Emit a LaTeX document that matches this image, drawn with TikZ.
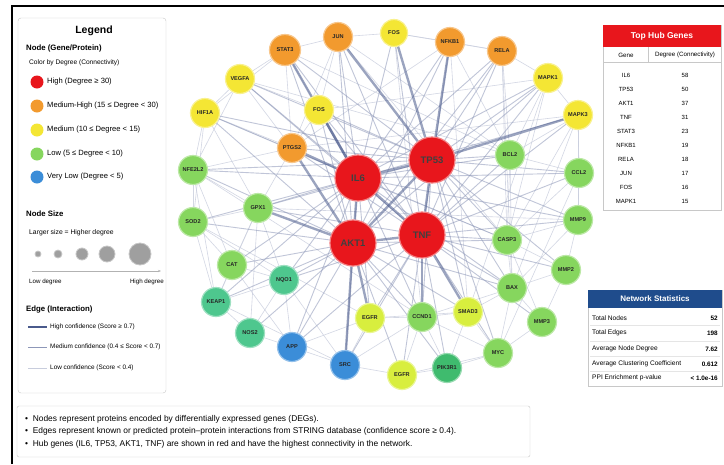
\documentclass[tikz,border=0pt]{standalone}
\usepackage{fontspec}
\setmainfont{Liberation Sans}
\usetikzlibrary{arrows.meta}
\pgfdeclarelayer{background}
\pgfsetlayers{background,main}
\definecolor{cred}{HTML}{E8161C}
\definecolor{corange}{HTML}{F29A2E}
\definecolor{cyellow}{HTML}{F4E634}
\definecolor{clime}{HTML}{D8EE3E}
\definecolor{cgreen}{HTML}{86D65E}
\definecolor{cteal}{HTML}{4EC78E}
\definecolor{cteal2}{HTML}{3FBB6E}
\definecolor{cblue}{HTML}{3B8DD8}
\definecolor{ehigh}{HTML}{4A5A8C}
\definecolor{emed}{HTML}{8D97B8}
\definecolor{elow}{HTML}{C8CDDD}
\definecolor{statblue}{HTML}{1F4C8C}
\definecolor{boxgray}{HTML}{C8C8C8}
\begin{document}
\begin{tikzpicture}[x=1pt,y=-1pt,
  gn/.style={circle, minimum size=29pt, inner sep=0pt, line width=1.2pt,
    font=\fontsize{5.6}{6}\selectfont\bfseries, text=black!85},
  hub/.style={gn, minimum size=46pt, fill=cred, draw=cred!55!white,
    font=\fontsize{9.5}{10}\selectfont\bfseries, text=black!75},
  gorange/.style={gn, fill=corange, draw=corange!55!white},
  gyellow/.style={gn, fill=cyellow, draw=cyellow!55!white},
  glime/.style={gn, fill=clime, draw=clime!55!white},
  ggreen/.style={gn, fill=cgreen, draw=cgreen!55!white},
  gteal/.style={gn, fill=cteal, draw=cteal!55!white},
  gteal2/.style={gn, fill=cteal2, draw=cteal2!55!white},
  gblue/.style={gn, fill=cblue, draw=cblue!55!white},
  ehi/.style={draw=ehigh, line width=2.4pt, opacity=0.55},
  emd/.style={draw=emed, line width=0.9pt, opacity=0.55},
  elo/.style={draw=elow, line width=0.6pt, opacity=0.8},
  legtxt/.style={anchor=west, inner sep=0pt, font=\fontsize{7.6}{8}\selectfont},
  leghead/.style={anchor=west, inner sep=0pt, font=\fontsize{7.8}{8}\selectfont\bfseries},
  edgetxt/.style={anchor=west, inner sep=0pt, font=\fontsize{6.4}{7}\selectfont},
  tabtxt/.style={inner sep=0pt, font=\fontsize{6}{6.5}\selectfont},
  stattxt/.style={inner sep=0pt, font=\fontsize{6.6}{7}\selectfont},
  notetxt/.style={anchor=west, inner sep=0pt, font=\fontsize{8.4}{9}\selectfont}
]
\useasboundingbox (0,0) rectangle (724,464);
\begin{pgfonlayer}{background}
\fill[white] (0,0) rectangle (724,464);
\end{pgfonlayer}
% frame
\draw[line width=1.6pt] (12,464) -- (12,6) -- (724,6);

% ---------- network nodes ----------
\node[hub] (IL6) at (358,178) {IL6};
\node[hub] (TP53) at (432,160) {TP53};
\node[hub] (AKT1) at (353,243) {AKT1};
\node[hub] (TNF) at (422,235) {TNF};
\node[gorange, minimum size=31pt] (STAT3) at (285,50) {STAT3};
\node[gorange] (JUN) at (338,37) {JUN};
\node[gyellow, minimum size=27pt] (FOS) at (394,33) {FOS};
\node[gorange] (NFKB1) at (450,42) {NFKB1};
\node[gorange] (RELA) at (502,51) {RELA};
\node[gyellow] (MAPK1) at (548,78) {MAPK1};
\node[gyellow] (MAPK3) at (578,115) {MAPK3};
\node[gyellow] (VEGFA) at (240,79) {VEGFA};
\node[gyellow] (HIF1A) at (205,113) {HIF1A};
\node[gyellow] (FOSB) at (319,110) {FOS};
\node[gorange] (PTGS2) at (292,148) {PTGS2};
\node[ggreen] (NFE2L2) at (193,170) {NFE2L2};
\node[ggreen] (SOD2) at (193,222) {SOD2};
\node[ggreen] (GPX1) at (258,208) {GPX1};
\node[ggreen] (CAT) at (232,265) {CAT};
\node[gteal] (NQO1) at (284,280) {NQO1};
\node[gteal] (KEAP1) at (216,302) {KEAP1};
\node[gteal] (NOS2) at (250,333) {NOS2};
\node[gblue] (APP) at (292,347) {APP};
\node[gblue] (SRC) at (345,365) {SRC};
\node[glime] (EGFR) at (370,318) {EGFR};
\node[glime] (EGFRb) at (402,375) {EGFR};
\node[ggreen] (CCND1) at (422,317) {CCND1};
\node[glime] (SMAD3) at (468,312) {SMAD3};
\node[gteal2] (PIK3R1) at (447,368) {PIK3R1};
\node[ggreen] (MYC) at (498,353) {MYC};
\node[ggreen] (MMP3) at (542,322) {MMP3};
\node[ggreen] (BAX) at (512,288) {BAX};
\node[ggreen] (MMP2) at (566,270) {MMP2};
\node[ggreen] (MMP9) at (578,220) {MMP9};
\node[ggreen] (CCL2) at (579,173) {CCL2};
\node[ggreen] (BCL2) at (510,155) {BCL2};
\node[ggreen] (CASP3) at (507,240) {CASP3};

% ---------- edges ----------
\begin{pgfonlayer}{background}
% low confidence: ring and cross links
\foreach \a/\b in {STAT3/JUN, JUN/FOS, FOS/NFKB1, NFKB1/RELA, RELA/MAPK1, MAPK1/MAPK3,
  STAT3/VEGFA, VEGFA/HIF1A, HIF1A/NFE2L2, NFE2L2/SOD2, SOD2/CAT, CAT/KEAP1, KEAP1/NOS2,
  NOS2/APP, APP/SRC, SRC/EGFRb, EGFRb/PIK3R1, PIK3R1/MYC, MYC/MMP3, MMP3/MMP2, MMP2/MMP9,
  MMP9/CCL2, CCL2/MAPK3, BCL2/CASP3, CASP3/BAX, BAX/MMP3, SMAD3/MYC, CCND1/EGFRb,
  CCND1/PIK3R1, EGFR/SRC, EGFR/CCND1, NQO1/KEAP1, GPX1/CAT, GPX1/NQO1, FOSB/STAT3,
  FOSB/JUN, PTGS2/FOSB, PTGS2/NFKB1, STAT3/PTGS2, BCL2/MAPK1, BCL2/MAPK3, BCL2/CCL2,
  CASP3/MMP9, CASP3/MMP2, HIF1A/GPX1, VEGFA/FOSB, NFE2L2/GPX1, NFE2L2/CAT, SOD2/GPX1,
  SOD2/KEAP1, NOS2/NQO1, APP/NQO1, SMAD3/BAX, SMAD3/CCND1, SMAD3/PIK3R1, BCL2/BAX,
  BCL2/RELA, MAPK3/CASP3, MAPK1/CASP3, CCL2/CASP3, HIF1A/PTGS2, VEGFA/PTGS2, NFE2L2/PTGS2,
  GPX1/PTGS2, SOD2/NQO1, CAT/NQO1, KEAP1/GPX1, NOS2/GPX1, APP/EGFR, SRC/CCND1, EGFR/SMAD3,
  MYC/BAX, MMP2/BAX, MMP3/CASP3, MYC/CCND1, EGFRb/MYC, NFKB1/BCL2, RELA/CASP3, JUN/BCL2,
  FOS/RELA, STAT3/HIF1A, JUN/PTGS2, MAPK3/MMP9, APP/CAT, SRC/NQO1, CCND1/BAX, MMP9/BAX,
  HIF1A/SOD2, VEGFA/NFE2L2, NFE2L2/KEAP1, VEGFA/BCL2, HIF1A/CASP3, NFE2L2/CCND1,
  SOD2/EGFR, KEAP1/SRC, STAT3/BCL2, JUN/CASP3, MAPK1/SMAD3, MAPK3/BAX, CCL2/MYC,
  FOS/CCND1, NFKB1/SMAD3, RELA/BAX, GPX1/MMP9, PTGS2/MAPK3, FOSB/MAPK1}
  \draw[elo] (\a) -- (\b);
% medium confidence: hub links
\foreach \a/\b in {IL6/JUN, IL6/FOS, IL6/NFKB1, IL6/VEGFA, IL6/HIF1A, IL6/NFE2L2,
  IL6/SOD2, IL6/GPX1, IL6/CAT, IL6/NQO1, IL6/KEAP1, IL6/APP, IL6/SRC, IL6/EGFR,
  IL6/CCND1, IL6/BCL2, IL6/CASP3, IL6/MAPK1, IL6/RELA, IL6/MMP9, IL6/MAPK3, IL6/CCL2,
  IL6/BAX,
  TP53/RELA, TP53/MAPK1, TP53/BCL2, TP53/CCL2, TP53/CASP3, TP53/MMP9,
  TP53/BAX, TP53/SMAD3, TP53/MYC, TP53/CCND1, TP53/FOSB, TP53/PTGS2, TP53/STAT3,
  TP53/MMP2, TP53/VEGFA, TP53/HIF1A, TP53/NFE2L2, TP53/GPX1,
  AKT1/STAT3, AKT1/JUN, AKT1/FOSB, AKT1/HIF1A, AKT1/SOD2, AKT1/CAT, AKT1/NQO1,
  AKT1/KEAP1, AKT1/NOS2, AKT1/APP, AKT1/EGFRb, AKT1/CCND1, AKT1/PIK3R1, AKT1/SMAD3,
  AKT1/BAX, AKT1/CASP3, AKT1/NFE2L2, AKT1/MAPK1, AKT1/RELA, AKT1/NFKB1,
  TNF/JUN, TNF/NFKB1, TNF/RELA, TNF/MAPK1, TNF/MAPK3, TNF/BCL2, TNF/CCL2, TNF/MMP9,
  TNF/MMP2, TNF/CASP3, TNF/BAX, TNF/MMP3, TNF/MYC, TNF/PIK3R1, TNF/EGFR, TNF/EGFRb,
  TNF/SRC, TNF/APP, TNF/PTGS2, TNF/FOSB, TNF/FOS, TNF/STAT3, TNF/VEGFA, TNF/GPX1,
  TNF/NQO1}
  \draw[emd] (\a) -- (\b);
% high confidence
\foreach \a/\b in {IL6/TP53, IL6/AKT1, IL6/TNF, TP53/TNF, TP53/AKT1, AKT1/TNF,
  IL6/FOSB, IL6/PTGS2, IL6/STAT3, TP53/JUN, TP53/FOS, TP53/NFKB1, AKT1/EGFR,
  AKT1/SRC, AKT1/GPX1, AKT1/PTGS2, TNF/CCND1, TNF/SMAD3, TP53/MAPK3}
  \draw[ehi] (\a) -- (\b);
\end{pgfonlayer}

% ---------- legend ----------
\draw[draw=boxgray, fill=white, rounded corners=3pt] (18,18) rectangle (166,393);
\node[inner sep=0pt, font=\fontsize{10.5}{11}\selectfont\bfseries] (legT) at (94,31) {Legend};
\node[leghead] (legNode) at (26,48) {Node (Gene/Protein)};
\node[legtxt, font=\fontsize{6.6}{7}\selectfont] (legColor) at (29,63) {Color by Degree (Connectivity)};
\node[circle, fill=cred, minimum size=13pt, inner sep=0pt] (lc1) at (37,82) {};
\node[legtxt] (lt1) at (47,82) {High (Degree ≥ 30)};
\node[circle, fill=corange, minimum size=13pt, inner sep=0pt] (lc2) at (37,106) {};
\node[legtxt] (lt2) at (47,106) {Medium-High (15 ≤ Degree < 30)};
\node[circle, fill=cyellow, minimum size=13pt, inner sep=0pt] (lc3) at (37,130) {};
\node[legtxt] (lt3) at (47,130) {Medium (10 ≤ Degree < 15)};
\node[circle, fill=cgreen, minimum size=13pt, inner sep=0pt] (lc4) at (37,154) {};
\node[legtxt] (lt4) at (47,154) {Low (5 ≤ Degree < 10)};
\node[circle, fill=cblue, minimum size=13pt, inner sep=0pt] (lc5) at (37,177) {};
\node[legtxt] (lt5) at (47,177) {Very Low (Degree < 5)};

\node[leghead] (legSize) at (26,214) {Node Size};
\node[legtxt, font=\fontsize{6.8}{7}\selectfont] (legSizeT) at (29,233) {Larger size = Higher degree};
\foreach \xx/\rr [count=\i] in {38/3, 58/4, 82/6, 107/8, 140/11}
  \node[circle, fill=gray!75, draw=gray!45, line width=0.8pt, minimum size=2*\rr pt, inner sep=0pt] (ls\i) at (\xx,254) {};
\coordinate (arA) at (32,271);
\coordinate (arB) at (161,271);
\draw[gray!60, line width=1pt, -{Stealth[length=3pt]}] (arA) -- (arB);
\node[legtxt, font=\fontsize{6.2}{6.5}\selectfont] (lowd) at (29,282) {Low degree};
\node[inner sep=0pt, anchor=east, font=\fontsize{6.2}{6.5}\selectfont] (highd) at (164,282) {High degree};

\node[leghead] (legEdge) at (26,309) {Edge (Interaction)};
\coordinate (e1a) at (28,327); \coordinate (e1b) at (47,327);
\coordinate (e2a) at (28,347); \coordinate (e2b) at (47,347);
\coordinate (e3a) at (28,368); \coordinate (e3b) at (47,368);
\draw[draw=ehigh, line width=2pt] (e1a) -- (e1b);
\draw[draw=emed, line width=1pt] (e2a) -- (e2b);
\draw[draw=elow, line width=0.8pt] (e3a) -- (e3b);
\node[edgetxt] (le1) at (50,327) {High confidence (Score ≥ 0.7)};
\node[edgetxt] (le2) at (50,347) {Medium confidence (0.4 ≤ Score < 0.7)};
\node[edgetxt] (le3) at (50,368) {Low confidence (Score < 0.4)};

% ---------- top hub genes table ----------
\draw[draw=boxgray, fill=white] (603,25) rectangle (721,210);
\fill[cred] (603,25) rectangle (721,47);
\node[inner sep=0pt, text=white, font=\fontsize{8.5}{9}\selectfont\bfseries] (tabT) at (662,36) {Top Hub Genes};
\draw[draw=boxgray] (603,62) -- (721,62);
\draw[draw=boxgray] (648,47) -- (648,62);
\node[tabtxt, font=\fontsize{6.2}{6.5}\selectfont] (thG) at (626,55) {Gene};
\node[tabtxt, font=\fontsize{6.2}{6.5}\selectfont] (thD) at (685,55) {Degree (Connectivity)};
\foreach \g/\d [count=\i] in {IL6/58, TP53/50, AKT1/37, TNF/31, STAT3/23, NFKB1/19, RELA/18, JUN/17, FOS/16, MAPK1/15}
{
  \node[tabtxt] (tg\i) at (626,{61+14*\i}) {\g};
  \node[tabtxt] (td\i) at (685,{61+14*\i}) {\d};
}

% ---------- network statistics ----------
\draw[draw=boxgray, fill=white] (588,290) rectangle (722,386);
\fill[statblue] (588,290) rectangle (722,308);
\node[inner sep=0pt, text=white, font=\fontsize{8}{9}\selectfont\bfseries] (stT) at (655,299) {Network Statistics};
\foreach \yy in {325.5, 341, 356.5, 371}
  \draw[draw=gray!20] (590,\yy) -- (720,\yy);
\foreach \l/\v/\yy [count=\i] in {Total Nodes/52/318, Total Edges/198/333, Average Node Degree/7.62/349,
  Average Clustering Coefficient/0.612/364, PPI Enrichment p-value/< 1.0e-16/378}
{
  \node[stattxt, anchor=west] (sl\i) at (592,\yy) {\l};
  \node[stattxt, anchor=east, font=\fontsize{6.4}{7}\selectfont\bfseries] (sv\i) at (718,\yy) {\v};
}

% ---------- notes ----------
\draw[draw=boxgray, fill=white, rounded corners=2pt] (17,406) rectangle (530,457);
\node[notetxt] (n1) at (25,419) {•\ \ Nodes represent proteins encoded by differentially expressed genes (DEGs).};
\node[notetxt] (n2) at (25,431) {•\ \ Edges represent known or predicted protein–protein interactions from STRING database (confidence score ≥ 0.4).};
\node[notetxt] (n3) at (25,444) {•\ \ Hub genes (IL6, TP53, AKT1, TNF) are shown in red and have the highest connectivity in the network.};
\end{tikzpicture}
\end{document}
